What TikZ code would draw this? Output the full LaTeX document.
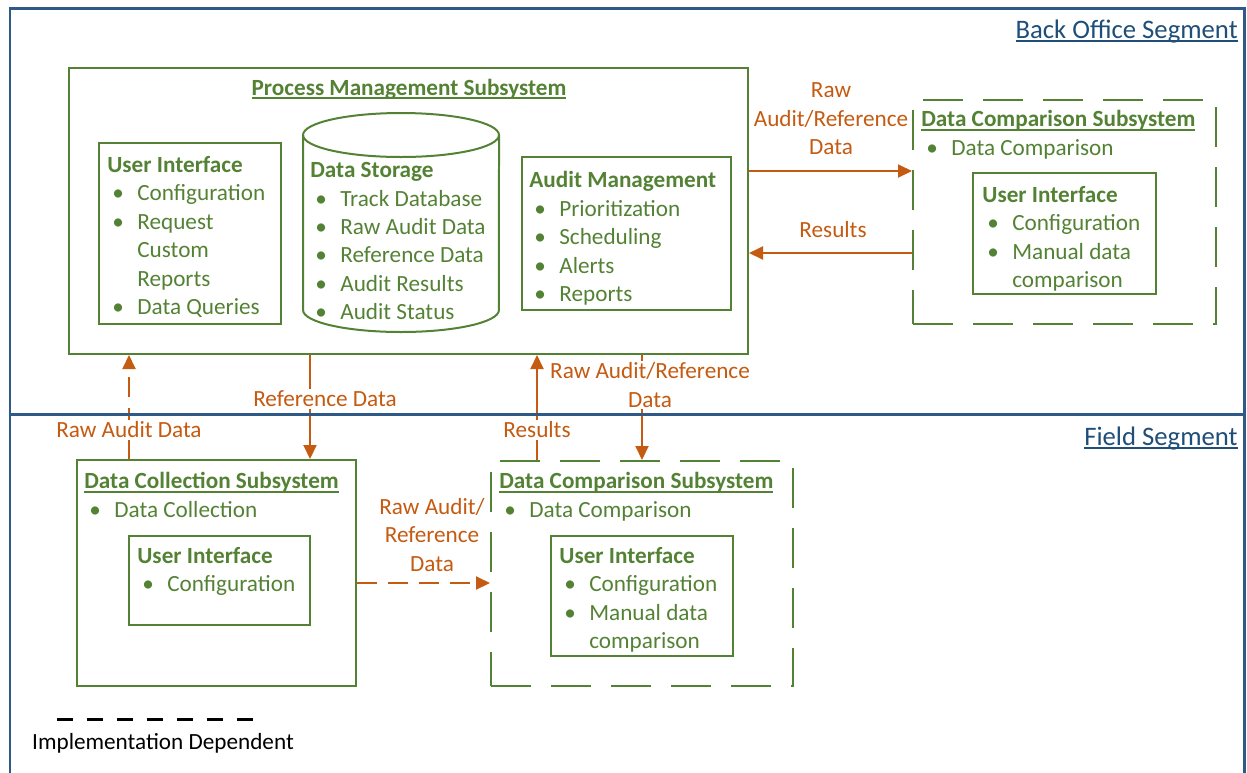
\documentclass[tikz,border=0pt]{standalone}
\usepackage{fontspec}
\setmainfont{Carlito}
\usetikzlibrary{fit,arrows.meta}
\definecolor{grn}{HTML}{548235}
\definecolor{org}{HTML}{C55A11}
\definecolor{blu}{HTML}{1F4E79}
\definecolor{bluline}{HTML}{2F5A88}
\newcommand{\itm}{\hspace*{0.1cm}\makebox[0.5cm][l]{\textbullet}}
\newcommand{\ind}{\hspace*{0.6cm}}
\newcommand{\uln}[1]{\leavevmode\setbox0\hbox{#1}\rlap{\rule[-2.3pt]{\wd0}{0.9pt}}\box0}

\begin{document}
\begin{tikzpicture}[x=0.02cm,y=-0.02cm,
    font=\fontsize{13.2}{16.2}\selectfont,
    box/.style={draw=grn, line width=0.04cm, inner sep=0pt},
    dbox/.style={box, dash pattern=on 0.8cm off 0.4cm},
    txt/.style={text=grn, align=left, anchor=north west, inner sep=0pt},
    lbl/.style={text=org, align=center, inner sep=1pt},
    arr/.style={draw=org, line width=0.04cm, -{Triangle[length=0.28cm,width=0.26cm]}},
    darr/.style={arr, dash pattern=on 0.4cm off 0.22cm},
    seg/.style={draw=bluline, line width=0.06cm, inner sep=0pt},
    segtxt/.style={text=blu, anchor=base east, inner sep=0pt, font=\fontsize{15.2}{18}\selectfont}]
    \useasboundingbox (0,0) rectangle (1247,772);
    %
    % boxes
    \node[box, fit={(69,68) (748,354)}] (pms) {};
    \node[box, fit={(99,143) (281,324)}] (ui1) {};
    \node[box, fit={(522,157) (731,310)}] (am) {};
    \node[dbox, fit={(913,100) (1216,324)}] (dcb) {};
    \node[box, fit={(973,173) (1156,294)}] (ui2) {};
    \node[box, fit={(77,460) (356,686)}] (dcol) {};
    \node[box, fit={(129,536) (310,625)}] (ui3) {};
    \node[dbox, fit={(491,461) (793,686)}] (dcf) {};
    \node[box, fit={(551,536) (733,656)}] (ui4) {};
    %
    % data storage cylinder
    \draw[grn, line width=0.04cm] (303,135) -- (303,310)
        arc[start angle=180, end angle=360, x radius=1.96cm, y radius=0.44cm] -- (499,135);
    \draw[grn, line width=0.04cm] (401,135) ellipse[x radius=1.96cm, y radius=0.44cm];
    %
    % texts
    \node[text=grn, anchor=base, inner sep=0pt] (pmst) at (409,95)
        {\uln{\textbf{Process Management Subsystem}}};
    \node[txt] (ui1t) at (107,156) {\textbf{User Interface}\\ \itm Configuration\\ \itm Request\\
        \ind Custom\\ \ind Reports\\ \itm Data Queries};
    \node[txt] (dst) at (310,162) {\textbf{Data Storage}\\ \itm Track Database\\ \itm Raw Audit Data\\
        \itm Reference Data\\ \itm Audit Results\\ \itm Audit Status};
    \node[txt] (amt) at (529,171) {\textbf{Audit Management}\\ \itm Prioritization\\ \itm Scheduling\\
        \itm Alerts\\ \itm Reports};
    \node[txt] (dcbt) at (921,110) {\uln{\textbf{Data Comparison Subsystem}}\\ \itm Data Comparison};
    \node[txt] (ui2t) at (982,186) {\textbf{User Interface}\\ \itm Configuration\\ \itm Manual data\\
        \ind comparison};
    \node[txt] (dcolt) at (84,472) {\uln{\textbf{Data Collection Subsystem}}\\ \itm Data Collection};
    \node[txt] (ui3t) at (137,547) {\textbf{User Interface}\\ \itm Configuration};
    \node[txt] (dcft) at (499,472) {\uln{\textbf{Data Comparison Subsystem}}\\ \itm Data Comparison};
    \node[txt] (ui4t) at (559,547) {\textbf{User Interface}\\ \itm Configuration\\ \itm Manual data\\
        \ind comparison};
    %
    % connectors
    \draw[arr] (pms.east |- 0,171) -- (dcb.west |- 0,171);
    \draw[arr] (dcb.west |- 0,253) -- (pms.east |- 0,253);
    \draw[darr] (dcol.north -| 129,0) -- (pms.south -| 129,0);
    \draw[arr] (pms.south -| 310,0) -- (dcol.north -| 310,0);
    \draw[arr] (dcf.north -| 537,0) -- (pms.south -| 537,0);
    \draw[arr] (pms.south -| 642,0) -- (dcf.north -| 642,0);
    \draw[darr] (dcol.east |- 0,583) -- (dcf.west |- 0,583);
    %
    % connector labels
    \node[lbl] (raw1) at (831,119) {Raw\\Audit/Reference\\Data};
    \node[lbl] (res1) at (833,230) {Results};
    \node[lbl, fill=white] (rawad) at (129,430) {Raw Audit Data};
    \node[lbl, fill=white] (refd) at (325,399) {Reference Data};
    \node[lbl, fill=white] (res2) at (537,430) {Results};
    \node[lbl, fill=white] (raw2) at (650,385) {Raw Audit/Reference\\Data};
    \node[lbl] (raw3) at (432,535) {Raw Audit/\\Reference\\Data};
    %
    % segments
    \node[seg, fit={(10,8) (1244,414)}] (bos) {};
    \node[seg, fit={(10,414) (1244,790)}] (fs) {};
    \node[segtxt] (bost) at (1238,38) {\uln{Back Office Segment}};
    \node[segtxt] (fst) at (1238,445) {\uln{Field Segment}};
    %
    % legend
    \coordinate (lg1) at (57,719);
    \coordinate (lg2) at (257,719);
    \draw[line width=0.06cm, dash pattern=on 0.32cm off 0.28cm] (lg1) -- (lg2);
    \node (lgt) at (163,743) {Implementation Dependent};
\end{tikzpicture}
\end{document}
